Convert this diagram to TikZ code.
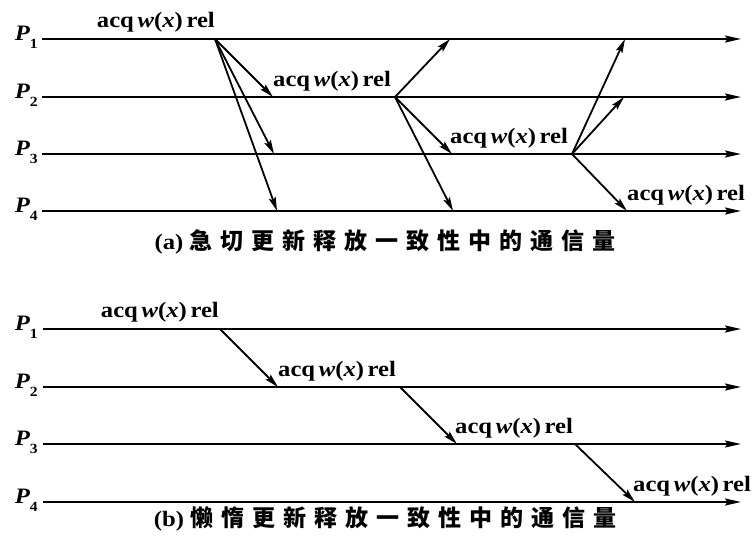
\documentclass[tikz,border=0pt]{standalone}
\usepackage{fontspec}
\setmainfont{Liberation Serif}[FakeStretch=1.12]
\newfontfamily\cjkfont{Noto Sans CJK SC}
\usetikzlibrary{arrows.meta}
\newcommand\acqrel{\bfseries acq\,\textit{w}(\textit{x})\,rel}
\newcommand\cgap{\hspace{8pt}}
\newcommand\plab[1]{\bfseries\itshape P\raisebox{-8pt}{\upshape\fontsize{14}{14}\selectfont #1}}
\begin{document}
\begin{tikzpicture}[x=1pt,y=-1pt,
  proc/.style={line width=2pt,-{Stealth[length=16pt,width=7pt,inset=2.5pt]}},
  msg/.style={line width=1.8pt,-{Stealth[length=14pt,width=7pt,inset=2.5pt]}},
  lab/.style={inner sep=0pt,font=\fontsize{22}{24}\selectfont},
  pname/.style={inner sep=0pt,anchor=base east,font=\fontsize{22}{24}\selectfont},
  captext/.style={inner sep=0pt,font=\fontsize{22}{26}\selectfont}]
\useasboundingbox (0,0) rectangle (753,555);
% ---------- (a) ----------
\foreach \i/\y in {1/39,2/97,3/154,4/211}{
  \coordinate (as\i) at (42,\y);
  \coordinate (ae\i) at (741,\y);
  \draw[proc] (as\i) -- (ae\i);
  \node[pname] (ap\i) at (38,\y+1) {\plab{\i}};
}
\coordinate (e1) at (215,39);
\coordinate (r12) at (273,97);
\coordinate (r13) at (274,154);
\coordinate (r14) at (277,211);
\coordinate (e2) at (395,97);
\coordinate (r21) at (450,39);
\coordinate (r23) at (452,154);
\coordinate (r24) at (453,211);
\coordinate (e3) at (572,154);
\coordinate (r31) at (625,39);
\coordinate (r32) at (624,97);
\coordinate (r34) at (627,211);
\draw[msg] (e1) -- (r12);
\draw[msg] (e1) -- (r13);
\draw[msg] (e1) -- (r14);
\draw[msg] (e2) -- (r21);
\draw[msg] (e2) -- (r23);
\draw[msg] (e2) -- (r24);
\draw[msg] (e3) -- (r31);
\draw[msg] (e3) -- (r32);
\draw[msg] (e3) -- (r34);
\node[lab,anchor=base east] (al1) at (215,27) {\acqrel};
\node[lab,anchor=base west] (al2) at (273,86) {\acqrel};
\node[lab,anchor=base west] (al3) at (450,143) {\acqrel};
\node[lab,anchor=base west] (al4) at (627,200) {\acqrel};
\node[captext] (capa) at (385,242) {{\bfseries (a)}\hspace{6pt}{\cjkfont\bfseries\fontsize{23}{26}\selectfont 急\cgap 切\cgap 更\cgap 新\cgap 释\cgap 放\cgap 一\cgap 致\cgap 性\cgap 中\cgap 的\cgap 通\cgap 信\cgap 量}};
% ---------- (b) ----------
\foreach \i/\y in {1/329,2/387,3/444,4/502}{
  \coordinate (bs\i) at (43,\y);
  \coordinate (be\i) at (741,\y);
  \draw[proc] (bs\i) -- (be\i);
  \node[pname] (bp\i) at (38,\y+1) {\plab{\i}};
}
\coordinate (f1) at (220,329);
\coordinate (g2) at (278,387);
\coordinate (f2) at (400,387);
\coordinate (g3) at (457,444);
\coordinate (f3) at (575,444);
\coordinate (g4) at (635,502);
\draw[msg] (f1) -- (g2);
\draw[msg] (f2) -- (g3);
\draw[msg] (f3) -- (g4);
\node[lab,anchor=base east] (bl1) at (219,317) {\acqrel};
\node[lab,anchor=base west] (bl2) at (278,376) {\acqrel};
\node[lab,anchor=base west] (bl3) at (455,433) {\acqrel};
\node[lab,anchor=base west] (bl4) at (633,491) {\acqrel};
\node[captext] (capb) at (385,519) {{\bfseries (b)}\hspace{6pt}{\cjkfont\bfseries\fontsize{23}{26}\selectfont 懒\cgap 惰\cgap 更\cgap 新\cgap 释\cgap 放\cgap 一\cgap 致\cgap 性\cgap 中\cgap 的\cgap 通\cgap 信\cgap 量}};
\end{tikzpicture}
\end{document}
